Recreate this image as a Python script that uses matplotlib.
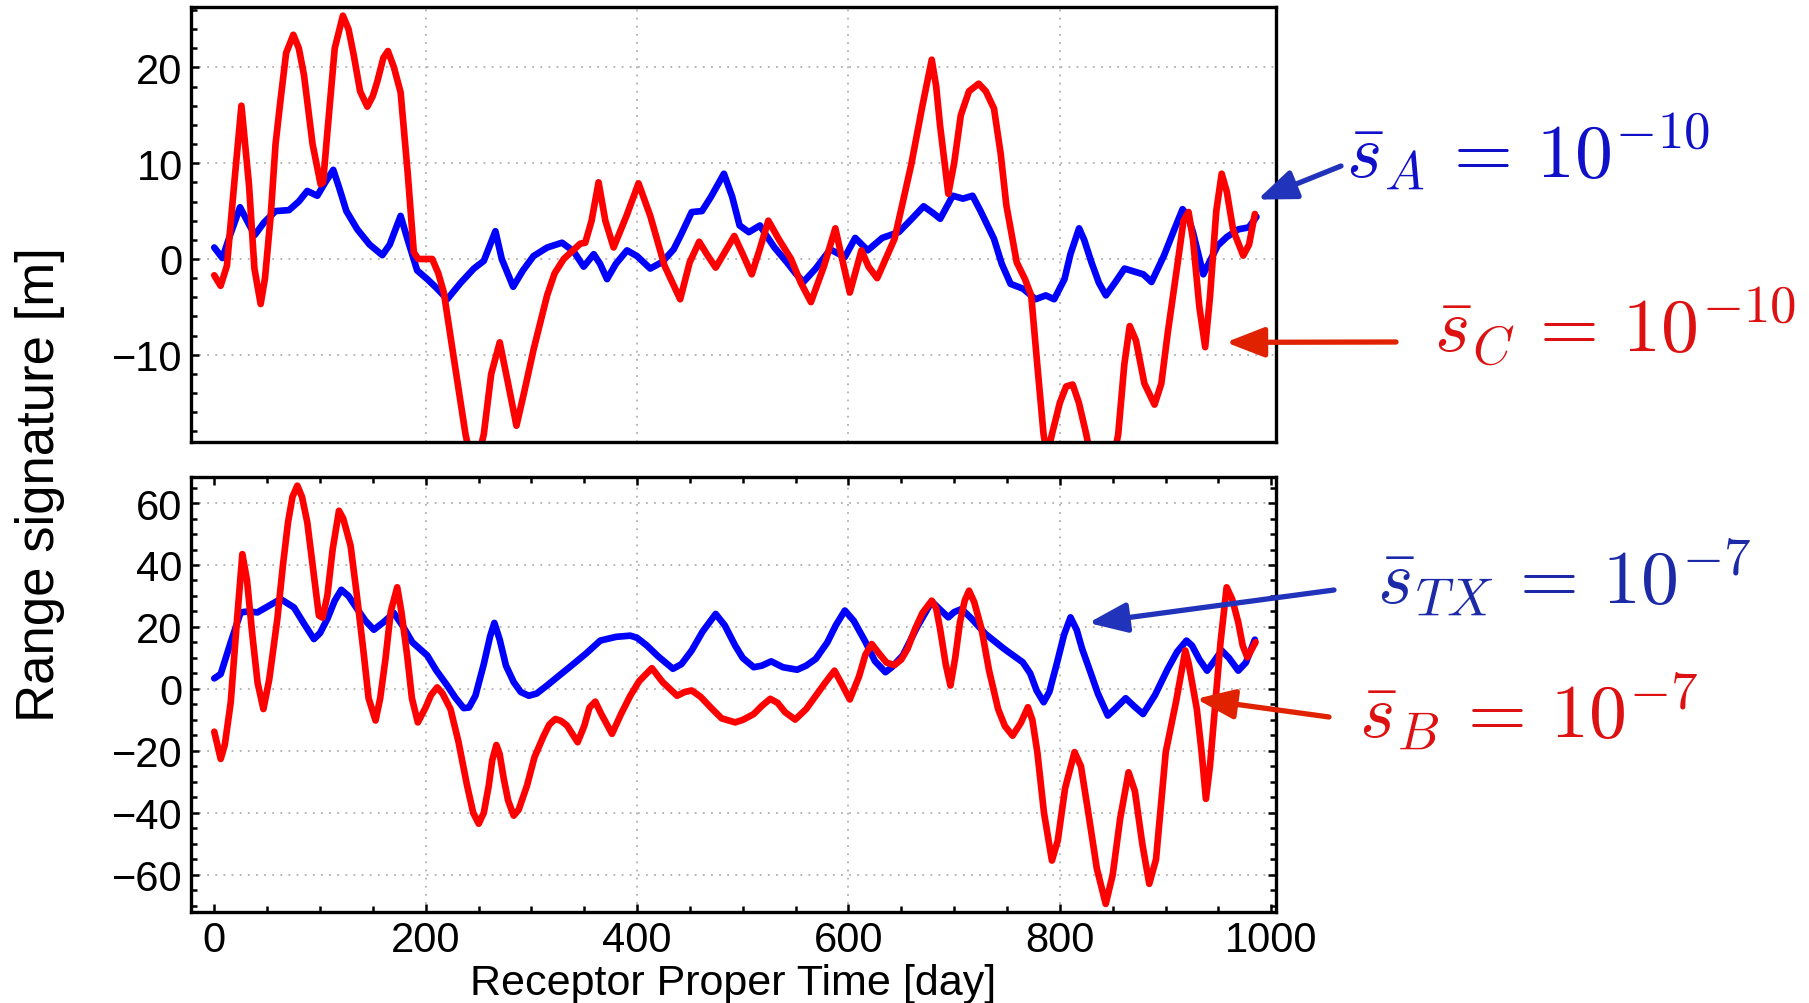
#!/usr/bin/env python

import matplotlib
matplotlib.use('Agg')
from matplotlib import pyplot as plt
from matplotlib.ticker import MultipleLocator

# Top panel, blue curve (s_A = 1e-10): time [day], range signature [m]
t_a = [0, 7.7, 15, 24.4, 31, 38.3, 47, 58, 70.7, 80, 88, 97.5, 105, 112.6, 118, 125, 135.3, 147, 159, 166,
       176.3, 183, 192, 201.5, 210, 220.4, 233, 245.6, 255, 266, 272, 282.8, 292, 302, 315, 329, 340, 349.5,
       359, 365, 371.6, 380, 390.5, 400, 412.5, 424, 434.6, 441, 451.7, 461.4, 470, 482.2, 490, 497, 505.8,
       516.3, 522, 530, 541.8, 550, 557.4, 569, 582.8, 596.6, 606.4, 618.2, 632, 647.6, 660, 671.1, 680,
       686.8, 698.6, 708.4, 717.4, 725, 737.7, 745, 753.4, 765.2, 777, 786.7, 794.6, 804.4, 810, 818.2, 823,
       829.9, 837, 843.6, 852, 861.2, 873, 879, 886.7, 898.5, 908, 916.1, 921, 925.9, 935.7, 942, 949.4, 958,
       969, 978.8, 986]
s_a = [1.2, 0.1, 2.5, 5.4, 4, 2.5, 3.8, 5.0, 5.1, 6, 7.1, 6.6, 8, 9.3, 7.5, 5, 3.1, 1.5, 0.4, 1.5,
       4.5, 2, -1.2, -2.1, -3, -4.2, -2.5, -1.0, -0.2, 2.9, 0, -2.9, -1.2, 0.3, 1.2, 1.7, 0.8, -0.8,
       0.5, -0.5, -2.1, -0.5, 0.9, 0.3, -1.0, -0.3, 1.0, 2.4, 4.9, 5.0, 6.5, 8.9, 6.5, 3.5, 2.8,
       3.5, 2.5, 1.2, -0.35, -1.5, -2.4, -1.0, 1.0, 0.2, 2.2, 0.9, 2.2, 2.8, 4.2, 5.5, 4.8,
       4.2, 6.6, 6.3, 6.6, 5, 2.1, -0.5, -2.6, -3.1, -4.2, -3.8, -4.2, -2.1, 0.5, 3.2, 2,
       -0.35, -2.5, -3.8, -2.5, -1.0, -1.4, -1.6, -2.4, 0.35, 3, 5.2, 4.5, 2.8, -1.6, -0.2, 1.4, 2.3,
       3.1, 3.3, 4.4]

# Top panel, red curve (s_C = 1e-10)
t_c = [0, 6, 12, 19, 25.7, 32.9, 38, 43.9, 48, 53.4, 58, 62.8, 68, 74.8, 80, 84.9, 93, 100.6, 103, 107,
       114, 121.7, 127, 132.1, 138, 144.8, 150, 154.2, 160, 164.3, 170, 176.3, 183, 188.8, 193, 198.3,
       206.2, 212, 217.2, 226.7, 237.7, 246, 255, 262, 270.1, 278, 285.9, 293, 302.2, 314.9, 322, 330.6,
       346.3, 351, 357, 363.6, 370, 377.8, 390, 401.4, 412.5, 426, 440.8, 449.8, 458.8, 466, 474.4, 492,
       500, 508.5, 516, 524.2, 533.9, 545.7, 555, 564.5, 577, 587.6, 594, 601.3, 612.3, 619, 627.2, 643.6,
       659.3, 670, 678.8, 683, 686.7, 694.5, 700, 706.3, 714, 723.2, 730, 737.7, 744, 749.4, 759.2, 767,
       772.9, 778.7, 784.6, 788, 792.5, 800, 806, 812.1, 818, 825, 840, 855.2, 861, 866.1, 872, 880,
       889.6, 896, 902.1, 912, 917, 921.8, 926, 932, 937.5, 942, 948, 953.1, 958, 964, 973.5, 979, 984.5]
s_c = [-1.7, -2.8, -0.7, 8, 16.0, 7.7, -1, -4.7, -2, 4.5, 12, 16.7, 21.5, 23.4, 22, 19.2, 12, 7.8, 8, 13.2,
       22, 25.4, 24, 21.2, 17.5, 15.9, 17, 18.5, 21, 21.7, 20, 17.4, 9, 0.7, 0, 0,
       0, -1.5, -3.5, -10.4, -18.3, -22.5, -18.3, -12, -8.7, -13, -17.4, -14, -9.4, -3.8, -1.5, 0,
       1.6, 1.7, 4, 8.0, 4, 1.2, 4.5, 7.9, 4.5, -0.7, -4.2, -0.35, 1.8, 0.5, -0.9, 2.4,
       0.5, -1.6, 1, 4.0, 2.1, 0, -2.5, -4.5, -0.7, 3.2, 0, -3.5, 0.9, -0.8, -2.0, 2.1,
       9.8, 16, 20.8, 18, 13.9, 6.8, 10, 15.0, 17.5, 18.3, 17.5, 15.7, 11, 5.6, -0.35, -2.1,
       -3.8, -11.1, -18.3, -20.5, -18.3, -15, -13.3, -13.1, -15, -18.3, -27, -18.3, -11, -7.0, -8.5, -13,
       -15.2, -13, -7.7, 0, 4, 4.9, 2, -5, -9.2, -4, 5, 8.9, 7, 3, 0.35, 1.5, 4.7]

# Bottom panel, blue curve (s_TX = 1e-7)
t_tx = [0, 6.1, 15.6, 25, 32, 40.8, 50, 62.8, 75.4, 85, 94.3, 100, 107, 114, 120.2, 127, 135.3, 143, 151,
        160, 169.9, 178, 187.3, 201.5, 210, 220.4, 228, 236, 241, 247.1, 255, 261, 265, 270, 276, 283.3,
        290, 297.5, 305, 314.8, 327, 340, 352, 365.2, 380, 393.6, 400, 409.3, 420, 434, 442, 451.7, 462,
        474.4, 483, 492.8, 500, 510.4, 518, 526.9, 538, 551.5, 560, 569.1, 580, 588, 596.6, 605, 616.2,
        625, 635, 641, 651.4, 665, 678.8, 687, 694.5, 700, 707.1, 717, 729.8, 747, 764.9, 772, 778, 784.7,
        790, 797, 804, 810.1, 816, 821, 827.8, 836, 845.4, 852, 862.3, 870, 878.7, 890, 902.1, 911, 919.8,
        925, 932, 939.3, 945, 953.1, 960, 968.8, 976, 984.5]
s_tx = [3.4, 4.8, 15.1, 24.7, 25, 24.7, 26.5, 29.0, 26.3, 21, 16.1, 18, 22.6, 28.5, 32.0, 30, 25.8, 22, 19.1,
        21.5, 24.5, 20.5, 15.1, 10.8, 6, 1.1, -2.8, -6.2, -6, -2.2, 8, 17, 21.3, 16, 7.5, 2.2,
        -1, -2.2, -1.5, 1.1, 4.5, 8.1, 11.5, 15.6, 16.8, 17.2, 16.5, 14.0, 10.5, 6.5, 8, 12.4, 18.5,
        24.2, 20.5, 14.0, 10, 7.0, 7.5, 8.9, 7, 6.2, 7.5, 9.7, 15, 20.5, 25.3, 22, 15.1,
        9, 5.4, 7, 10.8, 20, 28.2, 25.5, 23.1, 24.8, 25.8, 22.5, 17.7, 13, 8.6, 5, -0.5, -4.3,
        -1, 8, 17.5, 23.1, 19, 13, 6.5, -1.5, -8.6, -6.5, -3.0, -5.5, -8.1, -2, 6.5, 12, 15.6,
        14, 9.5, 5.9, 8.5, 12.4, 10, 5.9, 8.5, 15.9]

# Bottom panel, red curve (s_B = 1e-7)
t_b = [0, 6.1, 10, 15.6, 21, 26.6, 31, 36.1, 41, 46.5, 52, 59.7, 65, 69.8, 74, 78.6, 83, 88, 93, 99, 102.5,
       107, 112, 118, 122, 129, 135, 141.6, 146, 152.6, 157, 162, 167, 173.1, 177, 182.5, 187, 192.6, 200,
       205, 210.9, 216, 223.5, 231, 239.2, 245, 250.2, 255, 259.7, 263, 266.9, 270, 273.9, 278, 283.3, 288,
       295.9, 303, 311.7, 317, 322.7, 328, 333.7, 343.8, 350, 355, 360.5, 366, 376.3, 385, 393.6, 402, 414,
       424.2, 437.9, 445, 451.7, 460, 471.2, 480, 492.8, 500, 510.4, 518, 526, 533, 540, 549.6, 560, 569.1,
       578, 586.8, 593, 601.3, 610, 616, 622, 630, 636, 643.6, 650, 656, 663.1, 670, 678.8, 683, 686.7, 692,
       696.5, 701, 705.5, 710, 714.1, 719, 725.9, 733, 741.6, 748, 755.3, 763, 769.8, 774, 778.7, 785,
       792.5, 798, 805, 813.9, 820, 827.8, 835, 843.4, 850, 857, 865, 871, 878, 884.6, 891, 900.2, 910,
       918.7, 922, 929.6, 934, 938.2, 942, 947.2, 952, 957.8, 963, 968.8, 973, 977.4, 985.2]
s_b = [-13.8, -22.6, -18, -4.3, 20, 43.5, 35, 17.2, 2, -6.5, 3, 22.6, 40, 53.8, 62, 65.6, 62, 53.8, 40, 23.7, 23,
       30.1, 45, 57.5, 55, 46.2, 30, 10.8, -3, -10.2, -3, 9.7, 25, 32.8, 25, 10.8, -3, -10.8, -6,
       -2, 0.5, -1.5, -6.5, -17, -31.2, -40, -43.5, -40, -31.2, -23, -18.1, -21, -29.0, -36, -40.9, -39,
       -31.2, -22, -15.1, -11.5, -9.7, -10.3, -11.8, -17.2, -12, -6, -4.1, -8, -14.5, -8, -2.2, 2.5, 6.7,
       2.2, -2.2, -1, -0.5, -2.5, -6.5, -9.5, -10.8, -10, -8.1, -5.5, -3.2, -4.5, -7.5, -9.9, -6.5, -2.2,
       2, 5.9, 2, -3.4, 4, 11, 14.5, 11, 8.5, 7.7, 9.5, 13, 19.4, 24.5, 28.5, 26, 19.4, 8,
       1.1, 10, 21.5, 28.5, 31.7, 28, 19.4, 6, -6.5, -12, -15.1, -11, -5.9, -10, -20.4, -40,
       -55.4, -49, -32, -20.4, -25, -41.9, -58, -69.4, -60, -42, -26.9, -33, -50, -62.9, -55, -20.4, -4,
       12.4, 8, -6.5, -20, -35.5, -25, -4.3, 15, 32.8, 29, 21.5, 14, 10.2, 15.1]

# Annotation labels
label_a = r'$\bar{s}_A \,=\, 10^{-10}$'
label_c = r'$\bar{s}_C \,=\, 10^{-10}$'
label_tx = r'$\bar{s}_{TX} \,=\, 10^{-7}$'
label_b = r'$\bar{s}_B \,=\, 10^{-7}$'

W, H = 1809, 1004


def fx(px):
    return px / W


def fy(py):
    return 1 - py / H


def style_axes(ax, xgrid, ygrid):
    # Mathematica-like dotted grid lines
    for g in xgrid:
        ax.axvline(g, color='#b0b0b0', lw=1.3, ls=(0, (1, 3.5)), zorder=0)
    for g in ygrid:
        ax.axhline(g, color='#b0b0b0', lw=1.3, ls=(0, (1, 3.5)), zorder=0)
    for sp in ax.spines.values():
        sp.set_linewidth(2.4)
    ax.tick_params(which='both', direction='in', width=1.8, labelsize=30, pad=6)
    ax.tick_params(which='major', length=6)
    ax.tick_params(which='minor', length=4)


plt.rcParams['font.family'] = ['Liberation Sans', 'DejaVu Sans']
plt.rcParams['mathtext.fontset'] = 'cm'

fig = plt.figure(figsize=(W / 100, H / 100), dpi=100)

line = dict(lw=4.8, solid_joinstyle='round', solid_capstyle='round')

# Top panel
ax1 = fig.add_axes([fx(191), fy(443), fx(1276) - fx(191), fy(8) - fy(443)])
ax1.plot(t_a, s_a, color='#0000ff', **line)
ax1.plot(t_c, s_c, color='#ff0000', **line)
ax1.set_xlim(-22, 1004.5)
ax1.set_ylim(-19.1, 26.3)
ax1.yaxis.set_major_locator(MultipleLocator(10))
ax1.yaxis.set_minor_locator(MultipleLocator(2))
style_axes(ax1, [200, 400, 600, 800], [-10, 0, 10, 20])
ax1.tick_params(which='both', bottom=False, top=False, right=False, labelbottom=False)

# Bottom panel
ax2 = fig.add_axes([fx(191), fy(913), fx(1276) - fx(191), fy(478) - fy(913)])
ax2.plot(t_tx, s_tx, color='#0000ff', **line)
ax2.plot(t_b, s_b, color='#ff0000', **line)
ax2.set_xlim(-22, 1004.5)
ax2.set_ylim(-72, 68.4)
ax2.xaxis.set_major_locator(MultipleLocator(200))
ax2.xaxis.set_minor_locator(MultipleLocator(50))
ax2.yaxis.set_major_locator(MultipleLocator(20))
ax2.yaxis.set_minor_locator(MultipleLocator(5))
style_axes(ax2, [200, 400, 600, 800], [-60, -40, -20, 0, 20, 40, 60])
ax2.tick_params(which='both', top=True, right=True)

# Axis labels
fig.text(fx(40), fy(485), 'Range signature [m]', rotation=90, ha='center', va='center', fontsize=38)
fig.text(fx(733), fy(984), 'Receptor Proper Time [day]', ha='center', va='center', fontsize=31)

# Labels with arrows
arrow = dict(arrowstyle='-|>,head_length=0.9,head_width=0.35', lw=3.8, mutation_scale=26, shrinkA=0, shrinkB=0)

fig.text(fx(1346), fy(178), label_a, color='#1010c8', fontsize=54.5, ha='left', va='baseline')
ax1.annotate('', xy=(987, 6.2), xycoords='data', xytext=(fx(1341), fy(167)), textcoords='figure fraction',
             arrowprops=dict(arrow, color='#2233bb'), annotation_clip=False)

fig.text(fx(1434), fy(352), label_c, color='#dd1111', fontsize=54.5, ha='left', va='baseline')
ax1.annotate('', xy=(957, -8.7), xycoords='data', xytext=(fx(1396), fy(343)), textcoords='figure fraction',
             arrowprops=dict(arrow, color='#e02200'), annotation_clip=False)

fig.text(fx(1377), fy(603), label_tx, color='#1c2aa8', fontsize=54.5, ha='left', va='baseline')
ax2.annotate('', xy=(827, 21.3), xycoords='data', xytext=(fx(1334), fy(591)), textcoords='figure fraction',
             arrowprops=dict(arrow, color='#2233bb'), annotation_clip=False)

fig.text(fx(1359), fy(737), label_b, color='#dd1111', fontsize=54.5, ha='left', va='baseline')
ax2.annotate('', xy=(929, -3.2), xycoords='data', xytext=(fx(1329), fy(718)), textcoords='figure fraction',
             arrowprops=dict(arrow, color='#e02200'), annotation_clip=False)

fig.savefig('out.png', dpi=100)
